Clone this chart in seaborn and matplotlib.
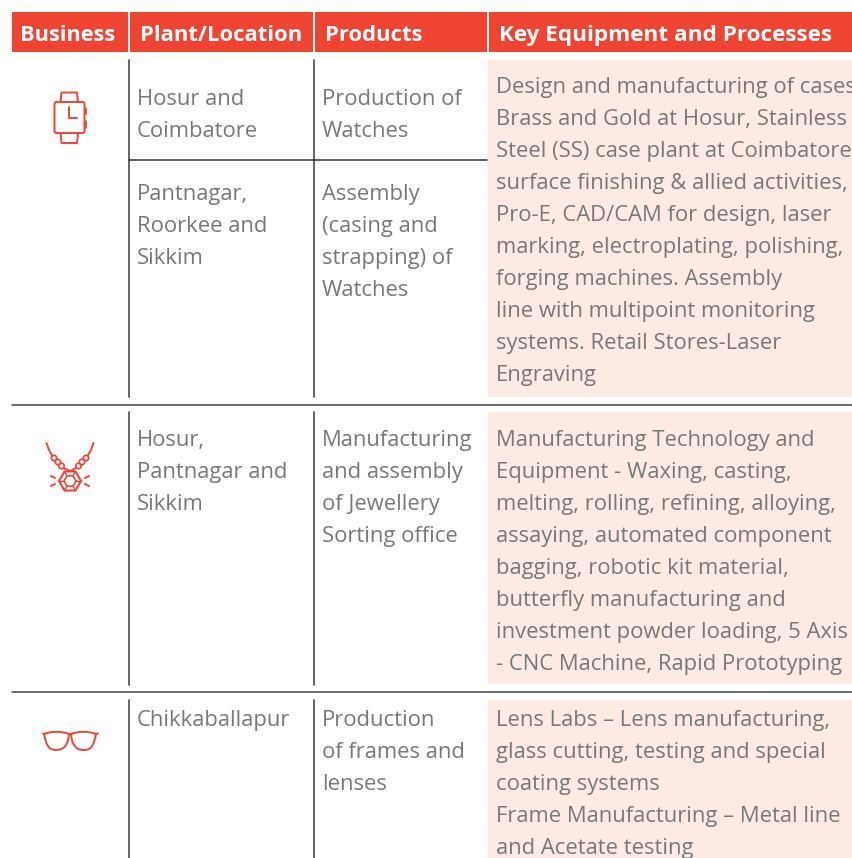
import numpy as np
import matplotlib.pyplot as plt
import matplotlib.patches as mp
from matplotlib.path import Path
import seaborn as sns

sns.set_theme(style="white")
plt.rcParams['font.family'] = ['Open Sans', 'DejaVu Sans']

RED = "#f04433"
GREY = "#77787a"
PEACH = "#fdeae3"

headers = ["Business", "Plant/Location", "Products", "Key Equipment and Processes"]

plants = [["Hosur and", "Coimbatore"],
          ["Pantnagar,", "Roorkee and", "Sikkim"],
          ["Hosur,", "Pantnagar and", "Sikkim"],
          ["Chikkaballapur"]]
products = [["Production of", "Watches"],
            ["Assembly", "(casing and", "strapping) of", "Watches"],
            ["Manufacturing", "and assembly", "of Jewellery", "Sorting office"],
            ["Production", "of frames and", "lenses"]]
equipment = [["Design and manufacturing of cases", "Brass and Gold at Hosur, Stainless",
              "Steel (SS) case plant at Coimbatore", "surface finishing & allied activities,",
              "Pro-E, CAD/CAM for design, laser", "marking, electroplating, polishing,",
              "forging machines. Assembly", "line with multipoint monitoring",
              "systems. Retail Stores-Laser", "Engraving"],
             ["Manufacturing Technology and", "Equipment - Waxing, casting,",
              "melting, rolling, refining, alloying,", "assaying, automated component",
              "bagging, robotic kit material,", "butterfly manufacturing and",
              "investment powder loading, 5 Axis", "- CNC Machine, Rapid Prototyping"],
             ["Lens Labs – Lens manufacturing,", "glass cutting, testing and special",
              "coating systems", "Frame Manufacturing – Metal line", "and Acetate testing"]]

fig = plt.figure(figsize=(8.53, 8.58), dpi=100)
ax = fig.add_axes([0, 0, 1, 1])
ax.set_xlim(0, 853)
ax.set_ylim(858, 0)
ax.axis("off")

# header bar
for (x0, x1), tx, fs, lab in zip([(12, 128), (130, 313), (315, 487), (489, 853)],
                                 [20, 140, 325, 499], [15.7, 15.8, 15.8, 16.2], headers):
    ax.add_patch(mp.Rectangle((x0, 12), x1 - x0, 40, color=RED, lw=0))
    ax.text(tx, 41, lab, color="white", fontsize=fs, fontweight="bold", va="baseline", ha="left")

# peach blocks
for y0, y1 in [(60, 397), (412, 684), (700, 858)]:
    ax.add_patch(mp.Rectangle((488, y0), 365, y1 - y0, color=PEACH, lw=0))

# rules
for y0, y1 in [(60, 397), (412, 685), (700, 858)]:
    for x in (129, 314):
        ax.plot([x, x], [y0, y1], color="#4a4a4a", lw=1.2)
ax.plot([129, 487], [159.5, 159.5], color="#333333", lw=1.1)
for y in (405, 692):
    ax.plot([12, 853], [y, y], color="#444444", lw=1.1)


def block(x, y, lines):
    for i, s in enumerate(lines):
        ax.text(x, y + i * 32, s, color=GREY, fontsize=15.85, va="baseline", ha="left", clip_on=True)


for lines, y in zip(plants, [105, 200, 446, 726]):
    block(137, y, lines)
for lines, y in zip(products, [105, 200, 446, 726]):
    block(322, y, lines)
for lines, y in zip(equipment, [93, 446, 726]):
    block(496, y, lines)

# watch icon
kw = dict(color=RED, lw=1.4, solid_capstyle="round")
ax.add_patch(mp.FancyBboxPatch((54.5, 102), 30, 31, boxstyle="round,pad=0,rounding_size=2",
                               fc="none", ec=RED, lw=1.4))
ax.plot([60.5, 61.5, 77, 78], [102, 92.5, 92.5, 102], **kw)
ax.plot([60.5, 61.5, 77, 78], [133, 143, 143, 133], **kw)
ax.plot([69, 69, 77], [106.5, 118, 118], **kw)
ax.plot([85.5, 85.5], [108, 113], color=RED, lw=2)
ax.plot([85.5, 85.5], [121, 127], color=RED, lw=2)

# necklace icon
ax.plot([46.5, 49, 52.5], [443, 450, 456], **kw)
ax.plot([93.5, 91, 87.5], [443, 450, 456], **kw)
for cx, cy in [(54, 458), (58, 462), (61.5, 466), (86, 458), (82, 462), (78.5, 466)]:
    ax.add_patch(mp.Circle((cx, cy), 2.7, fc="none", ec=RED, lw=1.2))
ax.plot([63.5, 70, 76.5], [468, 471, 468], **kw)
ang = np.deg2rad(np.arange(0, 361, 60))
for r, w in [(11, 1.5), (6, 1.2)]:
    ax.plot(70 + r * np.cos(ang), 481 + r * np.sin(ang), color=RED, lw=w)
for a in ang[:-1]:
    ax.plot([70 + 6 * np.cos(a), 70 + 11 * np.cos(a)],
            [481 + 6 * np.sin(a), 481 + 11 * np.sin(a)], color=RED, lw=1)
for sx in (-1, 1):
    ax.plot([70 + sx * 15, 70 + sx * 19], [478, 476], **kw)
    ax.plot([70 + sx * 15, 70 + sx * 19], [484, 486], **kw)

# glasses icon
codes = [Path.MOVETO, Path.CURVE4, Path.CURVE4, Path.CURVE4, Path.CURVE4, Path.CURVE4, Path.CURVE4]
left = [(44, 734), (52, 731), (61, 731), (69, 734), (68, 744), (65, 750), (56, 750)]
left2 = [(56, 750), (48, 750), (46, 744), (44, 734)]
for pts in (left, [(140 - x, y) for x, y in left]):
    ax.add_patch(mp.PathPatch(Path(pts, codes), fc="none", ec=RED, lw=1.4))
for pts in (left2, [(140 - x, y) for x, y in left2]):
    ax.add_patch(mp.PathPatch(Path(pts, codes[:4]), fc="none", ec=RED, lw=1.4))
ax.plot([69, 71], [734, 733.5], **kw)
ax.plot([43, 45], [733.5, 734], **kw)
ax.plot([95, 98], [734, 733.5], **kw)

plt.savefig("out.png", dpi=100)
